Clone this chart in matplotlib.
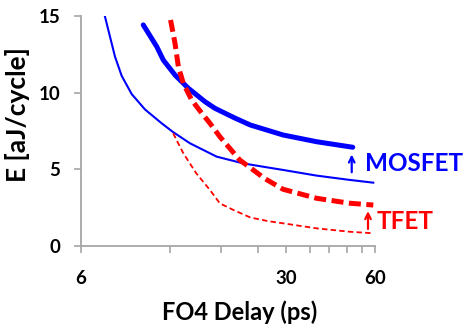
import matplotlib
matplotlib.use('Agg')
import matplotlib.pyplot as plt
from matplotlib.ticker import FixedLocator, NullFormatter

# MOSFET, thick (upper) and thin (lower) curves
mos_hi_x = [9.77, 10.86, 11.43, 12.53, 13.9, 15.85, 17.13, 20.0, 22.6, 29.2, 38.0, 50.4]
mos_hi_y = [14.42, 13.0, 12.13, 11.15, 10.29, 9.41, 8.98, 8.35, 7.89, 7.24, 6.8, 6.44]
mos_lo_x = [7.24, 7.53, 7.83, 8.25, 8.93, 9.91, 11.29, 12.3, 14.08, 17.35, 21.35, 25.0, 29.2, 38.0, 49.2, 59.2]
mos_lo_y = [14.96, 13.65, 12.35, 11.1, 9.9, 8.9, 8.0, 7.45, 6.7, 5.83, 5.39, 5.17, 4.96, 4.59, 4.31, 4.13]

# TFET, thick (upper) and thin (lower) curves
tfet_hi_x = [12.1, 12.53, 12.86, 13.37, 14.28, 15.45, 16.48, 17.8, 20.8, 22.6, 25.3, 29.2, 38.0, 49.2, 59.2]
tfet_hi_y = [14.74, 13.22, 11.7, 10.61, 9.52, 8.66, 8.0, 7.13, 5.61, 5.1, 4.4, 3.7, 3.11, 2.79, 2.67]
tfet_lo_x = [12.35, 13.37, 14.8, 16.48, 17.8, 19.8, 22.6, 26.0, 29.2, 38.0, 49.2, 59.2]
tfet_lo_y = [7.35, 6.05, 4.74, 3.65, 2.78, 2.35, 1.86, 1.62, 1.48, 1.15, 0.93, 0.83]

xticks_major = [6, 30, 60]
xticks_minor = [12, 18, 24, 36, 42, 48, 54]
yticks = [0, 5, 10, 15]

blue = '#0000ff'
red = '#ff0000'
grey = '#a6a6a6'

plt.rcParams['font.family'] = ['Lato', 'DejaVu Sans']
plt.rcParams['font.weight'] = 'bold'

fig = plt.figure(figsize=(4.69, 3.28), dpi=100)
ax = fig.add_axes([81/469, 82/328, 294/469, 230/328])

ax.plot(mos_hi_x, mos_hi_y, color=blue, lw=3.6, solid_capstyle='round')
ax.plot(mos_lo_x, mos_lo_y, color=blue, lw=1.5)
ax.plot(tfet_hi_x, tfet_hi_y, color=red, lw=3.6, dashes=(2.4, 1.1))
ax.plot(tfet_lo_x, tfet_lo_y, color=red, lw=1.3, dashes=(3.0, 1.8))

ax.set_xscale('log')
ax.set_xlim(6, 60)
ax.set_ylim(0, 15)
ax.xaxis.set_major_locator(FixedLocator(xticks_major))
ax.xaxis.set_minor_locator(FixedLocator(xticks_minor))
ax.xaxis.set_minor_formatter(NullFormatter())
ax.set_xticklabels([str(v) for v in xticks_major])
ax.set_yticks(yticks)

for s in ['top', 'right']:
    ax.spines[s].set_visible(False)
for s in ['left', 'bottom']:
    ax.spines[s].set_color(grey)
    ax.spines[s].set_linewidth(1.3)
ax.tick_params(which='both', color=grey, width=1.2, length=5, labelsize=13.5)
ax.tick_params(axis='x', which='both', pad=12)
ax.tick_params(axis='y', pad=10)

ax.set_xlabel('FO4 Delay (ps)', fontsize=17, fontweight='bold')
ax.set_ylabel('E [aJ/cycle]', fontsize=19, fontweight='bold')
ax.xaxis.set_label_coords(0.54, -0.235)
ax.yaxis.set_label_coords(-0.175, 0.57)

ax.annotate('', xy=(50.0, 6.15), xytext=(50.0, 4.63),
            arrowprops=dict(arrowstyle='->', color=blue, lw=1.6), annotation_clip=False)
ax.text(55.5, 5.4, 'MOSFET', color=blue, fontsize=17.5, fontweight='bold',
        va='center', ha='left', clip_on=False)
ax.annotate('', xy=(56.8, 2.46), xytext=(56.8, 0.93),
            arrowprops=dict(arrowstyle='->', color=red, lw=1.6), annotation_clip=False)
ax.text(61.0, 1.6, 'TFET', color=red, fontsize=17.5, fontweight='bold',
        va='center', ha='left', clip_on=False)

fig.savefig('out.png', dpi=100)
